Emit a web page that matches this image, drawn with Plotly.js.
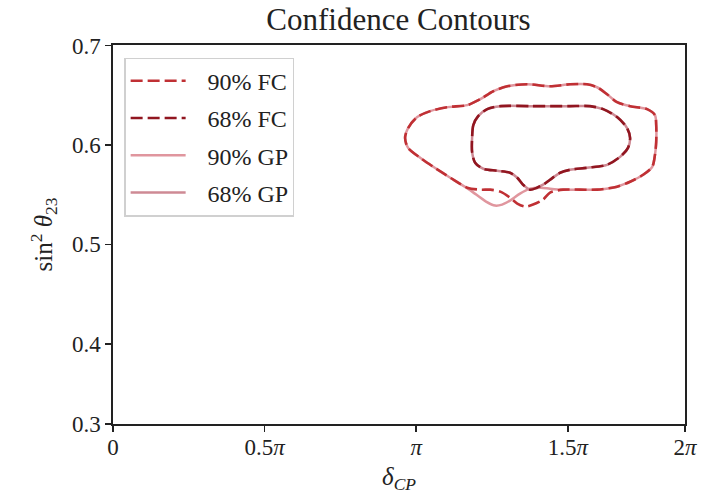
<!DOCTYPE html>
<html>
<head>
<meta charset="utf-8">
<script src="https://cdn.plot.ly/plotly-3.0.1.min.js"></script>
<style>html,body{margin:0;padding:0;background:#fff;}#chart{width:706px;height:498px;}</style>
</head>
<body>
<div id="chart"></div>
<script>
// delta_CP in units of pi, sin^2(theta23)
const fc90_delta = [0.963,0.973,1.003,1.046,1.102,1.168,1.211,1.254,1.300,1.366,1.441,1.507,1.563,1.596,1.629,1.662,1.705,1.761,1.787,1.791,1.791,1.787,1.778,1.748,1.705,1.662,1.596,1.540,1.484,1.441,1.418,1.385,1.359,1.333,1.309,1.277,1.244,1.211,1.168,1.112,1.056,1.013,0.973,0.963];
const fc90_s23   = [0.607,0.617,0.628,0.634,0.638,0.640,0.646,0.654,0.659,0.661,0.659,0.661,0.661,0.658,0.651,0.643,0.639,0.636,0.630,0.620,0.603,0.590,0.578,0.570,0.563,0.558,0.555,0.555,0.555,0.552,0.545,0.540,0.538,0.541,0.547,0.553,0.555,0.555,0.557,0.567,0.578,0.587,0.597,0.607];

const fc68_delta = [1.184,1.188,1.204,1.234,1.277,1.375,1.441,1.507,1.573,1.616,1.662,1.695,1.705,1.698,1.672,1.629,1.563,1.507,1.474,1.441,1.418,1.398,1.375,1.352,1.333,1.309,1.267,1.221,1.194,1.184,1.184];
const fc68_s23   = [0.607,0.620,0.629,0.636,0.639,0.639,0.639,0.639,0.639,0.636,0.628,0.617,0.607,0.597,0.588,0.580,0.577,0.575,0.572,0.565,0.560,0.557,0.555,0.560,0.567,0.572,0.574,0.576,0.582,0.593,0.607];

const gp90_delta = [0.963,0.973,1.003,1.046,1.102,1.168,1.211,1.254,1.300,1.366,1.441,1.507,1.563,1.596,1.629,1.662,1.705,1.761,1.787,1.791,1.791,1.787,1.778,1.748,1.705,1.662,1.596,1.540,1.484,1.441,1.411,1.375,1.342,1.309,1.283,1.260,1.230,1.175,1.112,1.056,1.013,0.973,0.963];
const gp90_s23   = [0.607,0.617,0.628,0.634,0.638,0.640,0.646,0.654,0.659,0.661,0.659,0.661,0.661,0.658,0.651,0.643,0.639,0.636,0.630,0.620,0.603,0.590,0.578,0.570,0.563,0.558,0.555,0.555,0.555,0.556,0.557,0.556,0.551,0.544,0.540,0.539,0.543,0.555,0.567,0.578,0.587,0.597,0.607];

const gp68_delta = [1.184,1.188,1.204,1.234,1.277,1.375,1.441,1.507,1.573,1.616,1.662,1.695,1.705,1.698,1.672,1.629,1.563,1.507,1.474,1.441,1.418,1.398,1.375,1.352,1.333,1.309,1.267,1.221,1.194,1.184,1.184];
const gp68_s23   = [0.607,0.620,0.629,0.636,0.639,0.639,0.639,0.639,0.639,0.636,0.628,0.617,0.607,0.597,0.588,0.580,0.577,0.575,0.572,0.565,0.560,0.557,0.555,0.560,0.567,0.572,0.574,0.576,0.582,0.593,0.607];

const seriesNames = ['90% FC','68% FC','90% GP','68% GP'];
const xTickVals = [0, 0.5, 1, 1.5, 1.886];
const xTickText = ['0', '0.5<i>π</i>', '<i>π</i>', '1.5<i>π</i>', '2<i>π</i>'];
const yTickVals = [0.3193, 0.4, 0.5, 0.6, 0.7];
const yTickText = ['0.3', '0.4', '0.5', '0.6', '0.7'];

const F = 'Liberation Serif, Times New Roman, serif';
const PAD = '\u2002\u2009';
const traces = [
  {x: gp90_delta, y: gp90_s23, name: PAD + seriesNames[2], legendrank: 3, legendgroup: 'c',
   mode: 'lines', line: {color: 'rgb(224,150,158)', width: 2.5, shape: 'spline', smoothing: 0.8}},
  {x: gp68_delta, y: gp68_s23, name: PAD + seriesNames[3], legendrank: 4, legendgroup: 'd',
   mode: 'lines', line: {color: 'rgb(206,138,148)', width: 2.5, shape: 'spline', smoothing: 0.8}},
  {x: fc90_delta, y: fc90_s23, name: PAD + seriesNames[0], legendrank: 1, legendgroup: 'a',
   mode: 'lines', line: {color: 'rgb(192,48,52)', width: 2.6, dash: '12px,5px', shape: 'spline', smoothing: 0.8}},
  {x: fc68_delta, y: fc68_s23, name: PAD + seriesNames[1], legendrank: 2, legendgroup: 'b',
   mode: 'lines', line: {color: 'rgb(145,22,32)', width: 2.6, dash: '12px,5px', shape: 'spline', smoothing: 0.8}}
];

const layout = {
  width: 706, height: 498,
  paper_bgcolor: '#fff', plot_bgcolor: '#fff',
  margin: {l: 113, r: 21, t: 45, b: 74, pad: 0},
  font: {family: F, size: 23, color: '#222'},
  title: {text: 'Confidence Contours', font: {family: F, size: 31, color: '#222'},
          x: 0.5645, xanchor: 'center', yref: 'container', y: 0.962, yanchor: 'middle'},
  xaxis: {range: [0, 1.886], tickvals: xTickVals, ticktext: xTickText,
          showgrid: false, zeroline: false, showline: true, mirror: true,
          linecolor: '#222', linewidth: 1.6, ticks: 'outside', ticklen: 6, tickwidth: 1.6, tickcolor: '#222',
          tickfont: {family: F, size: 23, color: '#222'}, ticklabelstandoff: -4,
          title: {text: '<i>δ</i><sub><i>CP</i></sub>', font: {family: F, size: 25, color: '#222'}, standoff: 8}},
  yaxis: {range: [0.3193, 0.7005], tickvals: yTickVals, ticktext: yTickText,
          showgrid: false, zeroline: false, showline: true, mirror: true,
          linecolor: '#222', linewidth: 1.6, ticks: 'outside', ticklen: 6, tickwidth: 1.6, tickcolor: '#222',
          tickfont: {family: F, size: 23, color: '#222'},
          title: {text: 'sin<sup>2</sup> <i>θ</i><sub>23</sub>', font: {family: F, size: 25, color: '#222'}, standoff: 12}},
  showlegend: true,
  legend: {x: 0.02, y: 0.967, xanchor: 'left', yanchor: 'top',
           bgcolor: 'rgba(255,255,255,0.85)', bordercolor: '#d0d0d0', borderwidth: 1.2,
           font: {family: F, size: 24, color: '#222'}, traceorder: 'grouped', tracegroupgap: 3,
           itemwidth: 55}
};

Plotly.newPlot('chart', traces, layout, {displayModeBar: false, staticPlot: true});
</script>
</body>
</html>
